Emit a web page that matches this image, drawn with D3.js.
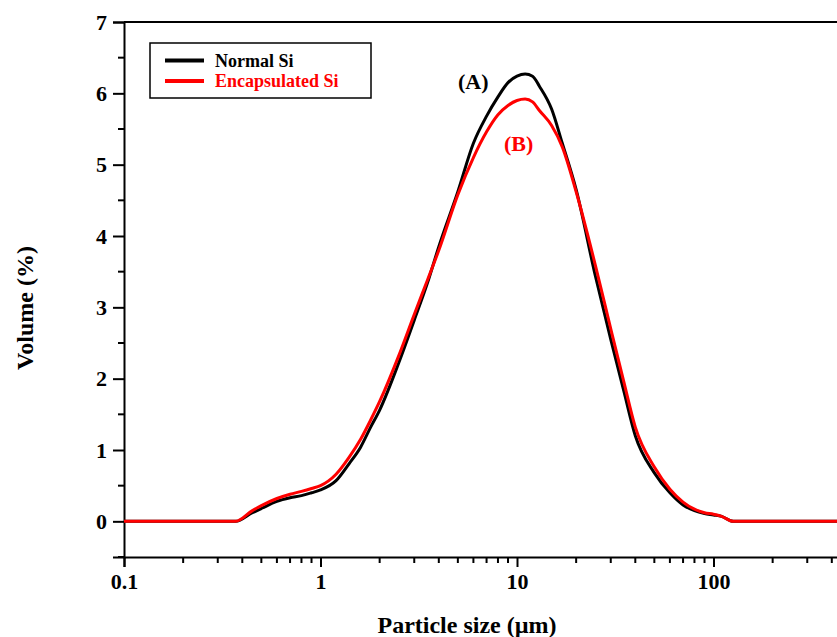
<!DOCTYPE html>
<html>
<head>
<meta charset="utf-8">
<script src="https://cdn.jsdelivr.net/npm/d3@7"></script>
<style>
  body { margin: 0; background: #fff; }
  text { font-family: "Liberation Serif", "Times New Roman", serif; font-weight: bold; }
</style>
</head>
<body>
<script>
// particle size bins (um)
var sizes = [0.1, 0.2, 0.3, 0.37, 0.45, 0.5, 0.6, 0.7, 0.8, 0.9, 1.0, 1.2, 1.4, 1.6, 1.8, 2, 2.5, 3, 3.5, 4,
  5, 6, 7, 8, 9, 10, 11, 12, 13, 15, 17, 20, 25, 30, 35, 40, 50, 60, 70, 80, 90, 100, 110, 126, 200, 500, 1000];

var normalSi = [0, 0, 0, 0, 0.12, 0.18, 0.28, 0.33, 0.36, 0.40, 0.44, 0.57, 0.81, 1.04, 1.32, 1.56, 2.22, 2.82, 3.34, 3.85,
  4.62, 5.3, 5.68, 5.95, 6.15, 6.24, 6.27, 6.24, 6.1, 5.78, 5.3, 4.65, 3.45, 2.55, 1.82, 1.2, 0.68, 0.4, 0.23, 0.15, 0.11, 0.09, 0.07, 0, 0, 0, 0];

var encapSi = [0, 0, 0, 0, 0.15, 0.22, 0.32, 0.38, 0.42, 0.46, 0.50, 0.66, 0.9, 1.15, 1.42, 1.68, 2.32, 2.9, 3.38, 3.8,
  4.58, 5.1, 5.46, 5.7, 5.83, 5.9, 5.92, 5.88, 5.76, 5.55, 5.25, 4.62, 3.6, 2.7, 1.95, 1.32, 0.76, 0.45, 0.27, 0.17, 0.12, 0.1, 0.07, 0, 0, 0, 0];

var seriesNames = ["Normal Si", "Encapsulated Si"];
var seriesColors = ["#000000", "#ff0000"];
var xTicks = [0.1, 1, 10, 100];
var yTicks = [0, 1, 2, 3, 4, 5, 6, 7];

var width = 837, height = 637;
var margin = {left: 124, top: 22};
var plotBottom = 557;

var svg = d3.select("body").append("svg")
  .attr("width", width)
  .attr("height", height);

var x = d3.scaleLog().domain([0.1, 1000]).range([margin.left, margin.left + 4 * 196.5]);
var y = d3.scaleLinear().domain([-0.5, 7]).range([plotBottom, margin.top]);

// frame top/right (right side falls outside the window)
svg.append("line")
  .attr("x1", x(0.1)).attr("x2", x(1000))
  .attr("y1", y(7)).attr("y2", y(7))
  .attr("stroke", "#000").attr("stroke-width", 2);
svg.append("line")
  .attr("x1", x(1000)).attr("x2", x(1000))
  .attr("y1", y(7)).attr("y2", y(-0.5))
  .attr("stroke", "#000").attr("stroke-width", 2);

// minor ticks
var xMinor = [];
[0.1, 1, 10, 100].forEach(function(dec) {
  for (var k = 2; k <= 9; k++) xMinor.push(dec * k);
});
var yMinor = d3.range(-0.5, 7, 1);

var xAxisG = svg.append("g")
  .attr("transform", "translate(0," + plotBottom + ")");
xAxisG.selectAll(".minor").data(xMinor).enter().append("line")
  .attr("class", "minor")
  .attr("x1", d => x(d)).attr("x2", d => x(d))
  .attr("y1", 0).attr("y2", 6)
  .attr("stroke", "#000").attr("stroke-width", 2);
xAxisG.call(d3.axisBottom(x).tickValues(xTicks).tickFormat(d3.format("~g")).tickSize(10).tickPadding(6))
  .call(g => g.select(".domain").attr("stroke-width", 2))
  .call(g => g.selectAll(".tick line").attr("stroke-width", 2))
  .call(g => g.selectAll(".tick text").attr("font-size", 22).attr("fill", "#000")
    .style("font-family", "'Liberation Serif', serif").style("font-weight", "bold"));

var yAxisG = svg.append("g")
  .attr("transform", "translate(" + margin.left + ",0)");
yAxisG.selectAll(".minor").data(yMinor).enter().append("line")
  .attr("class", "minor")
  .attr("x1", 0).attr("x2", -6)
  .attr("y1", d => y(d)).attr("y2", d => y(d))
  .attr("stroke", "#000").attr("stroke-width", 2);
yAxisG.call(d3.axisLeft(y).tickValues(yTicks).tickSize(11).tickPadding(6))
  .call(g => g.select(".domain").attr("stroke-width", 2))
  .call(g => g.selectAll(".tick line").attr("stroke-width", 2))
  .call(g => g.selectAll(".tick text").attr("font-size", 22).attr("fill", "#000")
    .style("font-family", "'Liberation Serif', serif").style("font-weight", "bold"));

// curves
var line = d3.line()
  .x(d => x(d[0]))
  .y(d => y(d[1]))
  .curve(d3.curveMonotoneX);

[normalSi, encapSi].forEach(function(vals, i) {
  svg.append("path")
    .datum(sizes.map((s, j) => [s, vals[j]]))
    .attr("fill", "none")
    .attr("stroke", seriesColors[i])
    .attr("stroke-width", 3)
    .attr("stroke-linejoin", "round")
    .attr("d", line);
});

// legend
var legend = svg.append("g");
legend.append("rect")
  .attr("x", 150).attr("y", 43)
  .attr("width", 221).attr("height", 55)
  .attr("fill", "#fff").attr("stroke", "#000").attr("stroke-width", 1.5);
seriesNames.forEach(function(name, i) {
  legend.append("line")
    .attr("x1", 165).attr("x2", 204)
    .attr("y1", 60.5 + i * 20.5).attr("y2", 60.5 + i * 20.5)
    .attr("stroke", seriesColors[i]).attr("stroke-width", 4);
  legend.append("text")
    .attr("x", 215).attr("y", 66.5 + i * 20.5)
    .attr("font-size", 18)
    .attr("fill", seriesColors[i])
    .text(name);
});

// annotations
svg.append("text").attr("x", 458).attr("y", 89).attr("font-size", 22).attr("fill", "#000").text("(A)");
svg.append("text").attr("x", 504).attr("y", 151).attr("font-size", 22).attr("fill", "#ff0000").text("(B)");

// axis titles
svg.append("text")
  .attr("x", 467).attr("y", 633)
  .attr("text-anchor", "middle")
  .attr("font-size", 24)
  .text("Particle size (\u00b5m)");
svg.append("text")
  .attr("transform", "translate(33,308) rotate(-90)")
  .attr("text-anchor", "middle")
  .attr("font-size", 24)
  .text("Volume (%)");
</script>
</body>
</html>
